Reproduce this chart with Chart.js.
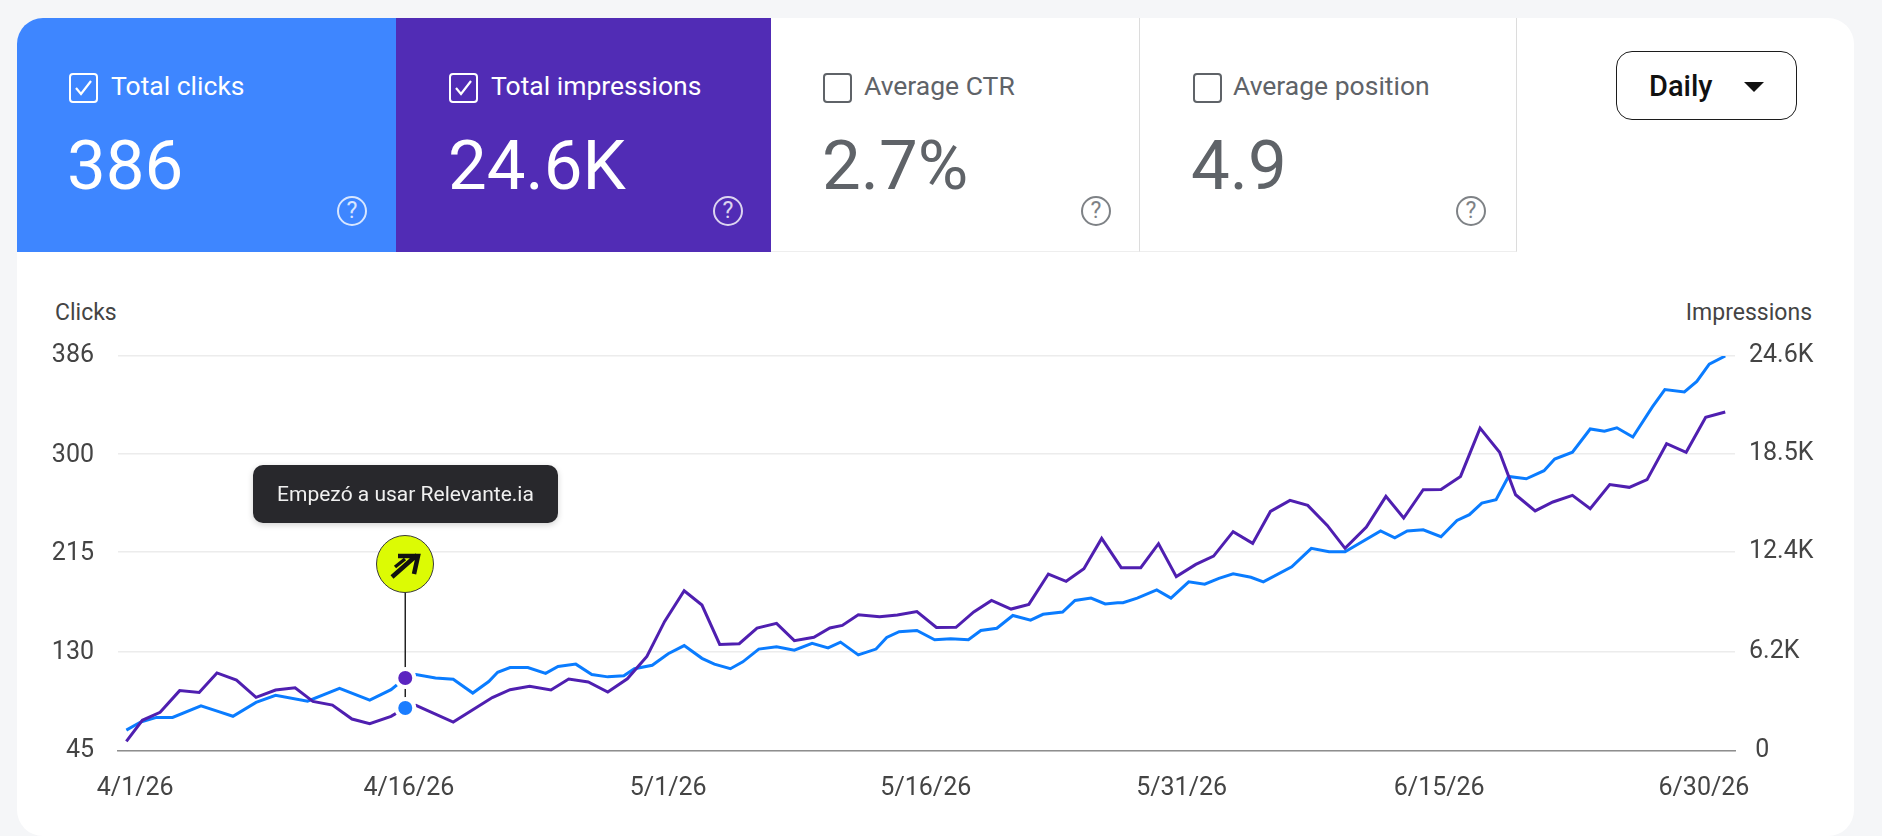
<!DOCTYPE html>
<html>
<head>
<meta charset="utf-8">
<title>Search performance</title>
<script src="https://cdn.jsdelivr.net/npm/chart.js@4"></script>
<style>
  html, body { margin: 0; padding: 0; width: 1882px; height: 836px; overflow: hidden; background: #f5f6f8; font-family: Roboto, sans-serif; }
  .card { position: absolute; left: 17px; top: 18px; width: 1837px; height: 818px; background: #fff; border-radius: 26px; overflow: hidden; }
  .tile { position: absolute; top: 18px; height: 234px; color: #5f6368; }
  .tile.blue { left: 17px; width: 379px; background: #3e86ff; color: #fff; border-top-left-radius: 26px; }
  .tile.purple { left: 396px; width: 375px; background: #512cb5; color: #fff; }
  .tile.plain { border-right: 1.5px solid #dcdcdc; border-bottom: 1.5px solid #eeeeee; box-sizing: border-box; }
  .box { position: absolute; top: 55px; width: 25px; height: 26px; border: 2.5px solid currentColor; border-radius: 4px; }
  .box svg { position: absolute; left: 3px; top: 3px; }
  .name { position: absolute; top: 52px; font-size: 26.5px; line-height: 32px; white-space: nowrap; }
  .value { position: absolute; top: 113px; font-size: 69px; line-height: 70px; white-space: nowrap; }
  .help { position: absolute; top: 178px; width: 26px; height: 26px; border: 2.5px solid currentColor; border-radius: 50%; font-size: 23px; line-height: 26px; text-align: center; opacity: .8; }
  .daily { position: absolute; left: 1616px; top: 51px; width: 179px; height: 67px; border: 1.5px solid #1c1c1c; border-radius: 16px; background: #fff; }
  .daily span { position: absolute; left: 32px; top: 18px; font-size: 29px; line-height: 32px; font-weight: 500; color: #111; }
  .daily i { position: absolute; left: 127px; top: 30px; width: 0; height: 0; border-left: 10px solid transparent; border-right: 10px solid transparent; border-top: 10px solid #111; }
  .axis-name { position: absolute; top: 299px; font-size: 23px; line-height: 28px; color: #444; white-space: nowrap; }
  canvas { position: absolute; left: 0; top: 0; }
  .note { position: absolute; left: 253px; top: 465px; width: 305px; height: 58px; border-radius: 10px; background: #28282c; color: #f0f0f0; font-size: 21px; line-height: 58px; text-align: center; box-shadow: 0 2px 6px rgba(0,0,0,.18); white-space: nowrap; }
  .pin { position: absolute; left: 376px; top: 535px; width: 56px; height: 56px; border: 1.5px solid #3a3a3a; border-radius: 50%; background: #dcfb04; }
  .pin svg { position: absolute; left: 0; top: 0; }
</style>
</head>
<body>
<div class="card"></div>

<div class="tile blue">
  <div class="box" style="left:52px"><svg width="19" height="20" viewBox="0 0 19 20"><path d="M2 10l5 6L17 3" fill="none" stroke="#fff" stroke-width="2.2"/></svg></div>
  <div class="name" style="left:94px">Total clicks</div>
  <div class="value" style="left:50px">386</div>
  <div class="help" style="left:320px">?</div>
</div>
<div class="tile purple">
  <div class="box" style="left:53px"><svg width="19" height="20" viewBox="0 0 19 20"><path d="M2 10l5 6L17 3" fill="none" stroke="#fff" stroke-width="2.2"/></svg></div>
  <div class="name" style="left:95px">Total impressions</div>
  <div class="value" style="left:52px">24.6K</div>
  <div class="help" style="left:317px">?</div>
</div>
<div class="tile plain" style="left:771px;width:369px">
  <div class="box" style="left:52px"></div>
  <div class="name" style="left:93px">Average CTR</div>
  <div class="value" style="left:51px">2.7%</div>
  <div class="help" style="left:310px">?</div>
</div>
<div class="tile plain" style="left:1140px;width:377px">
  <div class="box" style="left:53px"></div>
  <div class="name" style="left:93px">Average position</div>
  <div class="value" style="left:51px">4.9</div>
  <div class="help" style="left:316px">?</div>
</div>
<div class="daily"><span>Daily</span><i></i></div>

<div class="axis-name" style="left:55px">Clicks</div>
<div class="axis-name" style="right:70px">Impressions</div>

<canvas id="trafficChart" width="1882" height="836"></canvas>

<div class="note">Empezó a usar Relevante.ia</div>
<div class="pin"><svg width="56" height="56" viewBox="0 0 56 56"><path d="M15 41L40 19M21 20H41L37 38" fill="none" stroke="#111" stroke-width="4.5"/><path d="M18 31L28 23" fill="none" stroke="#111" stroke-width="3.5"/></svg></div>

<script>
const clickDays = [0, 0.8, 1.7, 2.6, 4.2, 5.2, 6, 7.3, 8.4, 10.2, 12, 13.7, 14.9, 15.7, 16.3, 17.4, 18.4, 19.5, 20.4, 20.9,
  21.6, 22.6, 23.6, 24.3, 25.3, 26.2, 27.1, 28, 28.6, 29.6, 30.5, 31.4, 32.4, 33.1, 34, 34.7, 35.6, 36.6, 37.6, 38.6,
  39.5, 40.2, 41.2, 42.2, 42.8, 43.5, 44.5, 45.5, 46.4, 47.4, 48.1, 49, 49.9, 50.9, 51.6, 52.7, 53.4, 54.3, 55.1, 55.8,
  56.1, 56.9, 58, 58.8, 59.8, 60.7, 61.5, 62.3, 63.3, 64, 65.6, 66.7, 67.7, 68.6, 70.6, 71.4, 72.1, 73, 74, 74.9,
  75.6, 76.3, 77.1, 77.8, 78.8, 79.8, 80.4, 81.4, 82.4, 83.2, 83.9, 84.8, 85.9, 86.6, 87.7, 88.4, 89.1, 90];
const clicks = [63, 70, 74, 74, 84, 79, 75, 87, 93, 88, 99, 89, 98, 108, 111, 108, 107, 95, 105, 113,
  117, 117, 112, 118, 120, 111, 109, 110, 116, 119, 129, 136, 125, 120, 116, 122, 133, 135, 132, 138,
  134, 139, 128, 133, 143, 148, 149, 141, 142, 141, 149, 151, 162, 158, 163, 165, 175, 177, 172, 173,
  173, 177, 184, 177, 191, 189, 194, 198, 195, 191, 204, 220, 217, 217, 235, 229, 235, 236, 230, 244,
  249, 259, 262, 282, 280, 287, 297, 303, 323, 321, 324, 316, 342, 357, 355, 364, 379, 386];

const impressionDays = [0, 0.9, 1.9, 3, 4.1, 5.1, 6.2, 7.3, 8.4, 9.5, 10.5, 11.6, 12.7, 13.7, 14.9, 15.7, 16.3, 18.4, 20.6,
  21.6, 22.7, 23.9, 24.9, 26, 27.1, 28.2, 29.3, 30.3, 31.4, 32.4, 33.4, 34.5, 35.5, 36.6, 37.6, 38.7, 39.6, 40.3, 41.2,
  42.4, 43.4, 44.5, 45.6, 46.7, 47.7, 48.7, 49.8, 50.8, 51.9, 52.9, 53.9, 54.9, 56, 57.1, 58.1, 59.1, 60.2, 61.2, 62.3,
  63.4, 64.4, 65.5, 66.5, 67.6, 68.6, 69.8, 70.9, 71.9, 73, 74, 75.1, 76.2, 77.3, 78.2, 79.3, 80.3, 81.4, 82.4, 83.5,
  84.6, 85.6, 86.7, 87.8, 88.9, 90];
const impressions = [600, 1910, 2410, 3760, 3650, 4860, 4420, 3340, 3800, 3940, 3090, 2860, 1990, 1700, 2160, 2680, 2840, 1800, 3330,
  3820, 4030, 3800, 4480, 4300, 3670, 4500, 5890, 8070, 9980, 9090, 6640, 6680, 7660, 7950, 6870, 7080, 7660, 7820, 8490,
  8360, 8470, 8680, 7690, 7700, 8660, 9380, 8840, 9130, 11020, 10570, 11350, 13240, 11420, 11420, 12910, 10860, 11620, 12140, 13660,
  12930, 14920, 15610, 15300, 14050, 12620, 13940, 15860, 14510, 16270, 16290, 17100, 20110, 18600, 15960, 14950, 15510, 15920, 15090, 16590,
  16420, 16900, 19140, 18600, 20780, 21110];

const dayTicks = [0.5, 15.9, 30.5, 45, 59.4, 73.9, 88.8];
const dayLabels = ['4/1/26', '4/16/26', '5/1/26', '5/16/26', '5/31/26', '6/15/26', '6/30/26'];
const clickTicks = [45, 130, 215, 300, 386];
const impressionTicks = [0, 6200, 12400, 18500, 24600];
const impressionLabels = [' 0', '6.2K', '12.4K', '18.5K', '24.6K'];
const eventDay = 15.7;

const tickFont = { family: 'Roboto', size: 25 };
const tickColor = '#444';

// Black stem from the event pin down to the lower of the two event dots
const eventStem = {
  id: 'eventStem',
  beforeDatasetsDraw(chart) {
    const x = chart.scales.x.getPixelForValue(eventDay);
    const yEnd = chart.scales.yImpressions.getPixelForValue(impressions[impressionDays.indexOf(eventDay)]);
    const c = chart.ctx;
    c.save();
    c.strokeStyle = '#222';
    c.lineWidth = 1.5;
    c.beginPath();
    c.moveTo(x, 591);
    c.lineTo(x, yEnd);
    c.stroke();
    c.restore();
  }
};

function setTicks(values) {
  return scale => { scale.ticks = values.map(value => ({ value: value })); };
}

new Chart(document.getElementById('trafficChart'), {
  type: 'line',
  data: {
    datasets: [{
      label: 'Impressions',
      data: impressionDays.map((day, i) => ({ x: day, y: impressions[i] })),
      yAxisID: 'yImpressions',
      borderColor: '#4f1fb0',
      borderWidth: 3,
      tension: 0,
      pointRadius: ctx => ctx.raw.x === eventDay ? 9 : 0,
      pointBackgroundColor: '#1a7dff',
      pointBorderColor: '#fff',
      pointBorderWidth: 4
    }, {
      label: 'Clicks',
      data: clickDays.map((day, i) => ({ x: day, y: clicks[i] })),
      yAxisID: 'yClicks',
      borderColor: '#0a7cff',
      borderWidth: 3,
      tension: 0,
      pointRadius: ctx => ctx.raw.x === eventDay ? 9 : 0,
      pointBackgroundColor: '#5b24c0',
      pointBorderColor: '#fff',
      pointBorderWidth: 4
    }]
  },
  options: {
    responsive: false,
    animation: false,
    layout: { padding: { top: 356 } },
    plugins: { legend: { display: false }, tooltip: { enabled: false } },
    scales: {
      x: {
        type: 'linear',
        min: -0.47,
        max: 90.55,
        afterBuildTicks: setTicks(dayTicks),
        afterFit: scale => { scale.height = 85; },
        grid: { display: false },
        border: { display: true, color: '#8e8e8e', width: 1.5 },
        ticks: {
          autoSkip: false,
          maxRotation: 0,
          padding: 15,
          font: tickFont,
          color: tickColor,
          callback: (value, i) => dayLabels[i]
        }
      },
      yClicks: {
        position: 'left',
        min: 45,
        max: 386,
        afterBuildTicks: setTicks(clickTicks),
        afterFit: scale => { scale.width = 118; },
        grid: { display: false },
        border: { display: false },
        ticks: { padding: 16, font: tickFont, color: tickColor, callback: value => value }
      },
      yImpressions: {
        position: 'right',
        min: 0,
        max: 24600,
        afterBuildTicks: setTicks(impressionTicks),
        afterFit: scale => { scale.width = 147; },
        grid: { color: '#ececec', lineWidth: 1.5, drawTicks: false },
        border: { display: false },
        ticks: { padding: 14, font: tickFont, color: tickColor, callback: (value, i) => impressionLabels[i] }
      }
    }
  },
  plugins: [eventStem]
});
</script>
</body>
</html>
